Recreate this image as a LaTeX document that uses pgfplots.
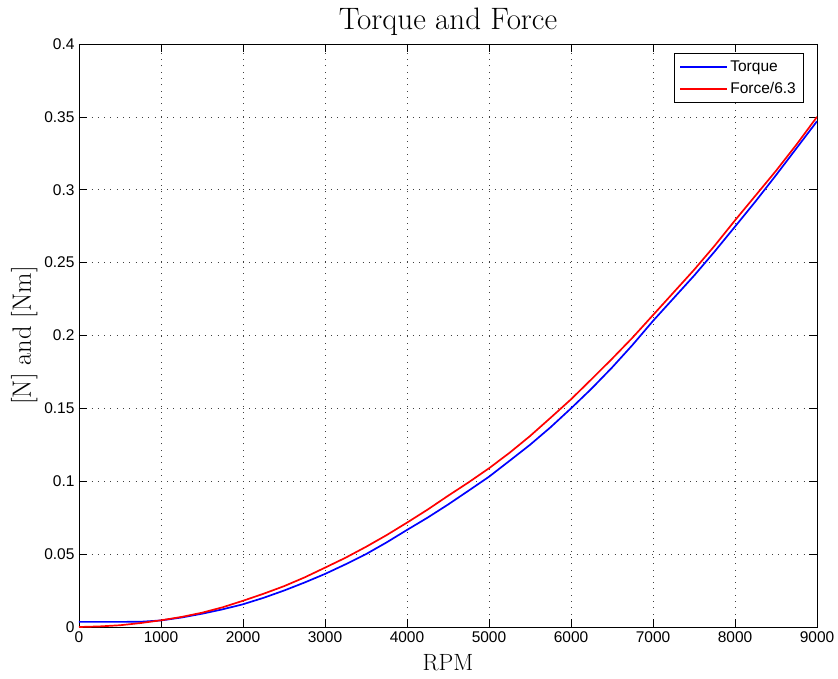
\documentclass[border=0pt]{standalone}
\usepackage{fontspec}
\usepackage{pgfplots}
\pgfplotsset{compat=1.18}
\newfontfamily\arialfont{Liberation Sans}
\definecolor{torqueblue}{RGB}{0,0,255}
\definecolor{forcered}{RGB}{255,0,0}

\begin{document}
\begin{tikzpicture}
\path[use as bounding box] (-79bp,-52bp) rectangle (759bp,627bp);
\begin{axis}[
  at={(0,0)}, anchor=south west,
  scale only axis,
  width=738bp, height=583bp,
  xmin=0, xmax=9000, ymin=0, ymax=0.4,
  xtick={0,1000,...,9000},
  ytick={0,0.05,...,0.4},
  axis line style={black, line width=0.6bp},
  tick style={black, line width=0.6bp},
  major tick length=8bp,
  tick align=inside,
  xtick pos=both, ytick pos=both,
  grid=major,
  major grid style={black!75, line width=0.6bp, dash pattern=on 0.8bp off 5.5bp},
  /pgf/number format/assume math mode=true,
  ticklabel style={font=\arialfont\fontsize{15.5bp}{18bp}\selectfont},
  xticklabel style={/pgf/number format/set thousands separator={}, yshift=-1bp},
  yticklabel style={/pgf/number format/fixed, /pgf/number format/precision=2, xshift=-1bp},
  title={Torque and Force},
  title style={font=\fontsize{31bp}{34bp}\selectfont, yshift=-1bp},
  xlabel={RPM},
  ylabel={[N] and [Nm]},
  xlabel style={font=\fontsize{23.5bp}{26bp}\selectfont, yshift=-5bp},
  ylabel style={font=\fontsize{26.5bp}{29bp}\selectfont, yshift=0bp},
  legend style={
    at={([xshift=-14bp,yshift=-9bp]axis description cs:1,1)}, anchor=north east,
    font=\arialfont\fontsize{15.5bp}{18bp}\selectfont,
    draw=black,
    inner xsep=5bp, inner ysep=5.5bp,
    row sep=5.5bp,
    cells={anchor=west},
  },
  legend image code/.code={\draw[line width=1.7bp,#1] (0bp,0bp) -- (47bp,0bp);},
]
% Torque, flat at low speed, then rising roughly with the square of RPM
\addplot[torqueblue, line width=1.7bp] coordinates {
  (0,0.0035) (250,0.0035) (500,0.0035) (750,0.0036) (1000,0.0045)
  (1250,0.0065) (1500,0.0091) (1750,0.0121) (2000,0.0156) (2250,0.0200)
  (2500,0.0250) (2750,0.0305) (3000,0.0364) (3250,0.0430) (3500,0.0500)
  (3750,0.0580) (4000,0.0666) (4250,0.0750) (4500,0.0840) (4750,0.0935)
  (5000,0.1031) (5250,0.1140) (5500,0.1250) (5750,0.1370) (6000,0.1500)
  (6250,0.1635) (6500,0.1780) (6750,0.1935) (7000,0.2100) (7250,0.2255)
  (7500,0.2410) (7750,0.2575) (8000,0.2747) (8250,0.2920) (8500,0.3100)
  (8750,0.3285) (9000,0.3470)
};
\addlegendentry{Torque}
% Force scaled by 1/6.3
\addplot[forcered, line width=1.7bp] coordinates {
  (0,0.0000) (250,0.0004) (500,0.0012) (750,0.0027) (1000,0.0046)
  (1250,0.0069) (1500,0.0098) (1750,0.0135) (2000,0.0180) (2250,0.0228)
  (2500,0.0280) (2750,0.0340) (3000,0.0407) (3250,0.0475) (3500,0.0550)
  (3750,0.0630) (4000,0.0716) (4250,0.0805) (4500,0.0900) (4750,0.0992)
  (5000,0.1089) (5250,0.1195) (5500,0.1310) (5750,0.1435) (6000,0.1562)
  (6250,0.1700) (6500,0.1840) (6750,0.1985) (7000,0.2140) (7250,0.2295)
  (7500,0.2450) (7750,0.2615) (8000,0.2790) (8250,0.2960) (8500,0.3130)
  (8750,0.3310) (9000,0.3500)
};
\addlegendentry{Force/6.3}
\end{axis}
\end{tikzpicture}
\end{document}
